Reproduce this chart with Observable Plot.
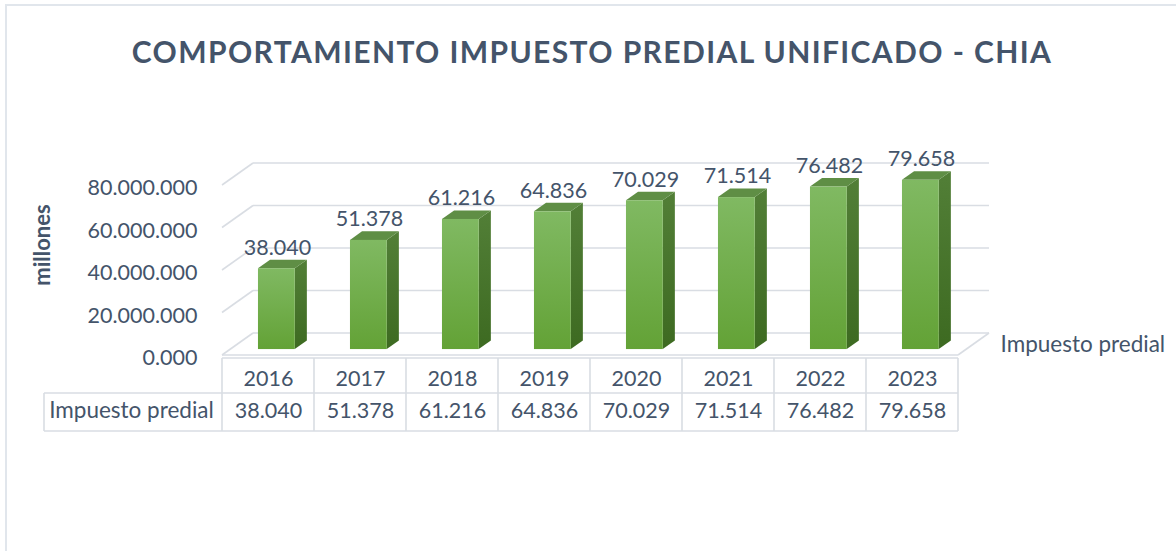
<!DOCTYPE html>
<html>
<head>
<meta charset="utf-8">
<script src="https://cdn.jsdelivr.net/npm/d3@7"></script>
<script src="https://cdn.jsdelivr.net/npm/@observablehq/plot@0.6"></script>
<style>
  html, body { margin: 0; padding: 0; background: #fff; }
  #wrap { position: relative; width: 1176px; height: 551px; overflow: hidden; font-family: Lato, "Open Sans", sans-serif; }
  #frame { position: absolute; left: 5px; top: 4px; width: 1200px; height: 600px; border-left: 2px solid #E1E6EC; border-top: 2px solid #E1E6EC; }
  #title { position: absolute; left: 5px; width: 1174px; top: 34px; line-height: 34px; text-align: center; font-weight: 700; font-size: 30px; letter-spacing: 1.4px; color: #44546A; white-space: nowrap; }
  #ytitle { position: absolute; left: 42px; top: 245px; transform: translate(-50%, -50%) rotate(-90deg); font-weight: 700; font-size: 22px; color: #44546A; white-space: nowrap; line-height: 24px; }
  #chart { position: absolute; left: 0; top: 100px; }
</style>
</head>
<body>
<div id="wrap"><div id="frame"></div><div id="title"></div><div id="ytitle"></div><div id="chart"></div></div>
<script>
// ---- data ----
const title = "COMPORTAMIENTO IMPUESTO PREDIAL UNIFICADO - CHIA";
const yTitle = "millones";
const seriesName = "Impuesto predial";
const years = ["2016", "2017", "2018", "2019", "2020", "2021", "2022", "2023"];
const values = [38.040, 51.378, 61.216, 64.836, 70.029, 71.514, 76.482, 79.658];
const yTicks = [0, 20, 40, 60, 80];
const yTickLabels = ["0.000", "20.000.000", "40.000.000", "60.000.000", "80.000.000"];

// ---- style / geometry ----
const TEXT = "#44546A";
const GRID = "#D9DDE3";
const DX = 31, DY = -22;          // floor depth in px
const BAR_FRONT = 0.27, BAR_BACK = 0.66, BAR_W = 0.4;
const NUM_SIZE = 21.5, WORD_SIZE = 22.5;
const fmt = v => v.toFixed(3);

document.getElementById("title").textContent = title;
document.getElementById("ytitle").textContent = yTitle;

const data = years.map((year, i) => ({year, value: values[i]}));

// band geometry helper (x is the band scale: returns band start)
function band(x) {
  const step = x(years[1]) - x(years[0]);
  const bw = typeof x.bandwidth === "function" ? x.bandwidth() : step;
  return {start: d => x(d), bw};
}

function walls(index, scales) {
  const y = scales.y, {start, bw} = band(scales.x);
  const x0 = start(years[0]), x1 = start(years[years.length - 1]) + bw;
  const g = d3.create("svg:g").attr("fill", "none").attr("stroke", GRID).attr("stroke-width", 1.6);
  for (const t of yTicks) {
    const yy = y(t);
    g.append("line").attr("x1", x0 + DX).attr("y1", yy + DY).attr("x2", x1 + DX).attr("y2", yy + DY);
    g.append("line").attr("x1", x0).attr("y1", yy).attr("x2", x0 + DX).attr("y2", yy + DY);
  }
  const y0 = y(0);
  g.append("line").attr("x1", x0).attr("y1", y0).attr("x2", x1).attr("y2", y0);
  g.append("line").attr("x1", x1).attr("y1", y0).attr("x2", x1 + DX).attr("y2", y0 + DY);
  return g.node();
}

function bars3d(index, scales) {
  const y = scales.y, {start, bw} = band(scales.x);
  const g = d3.create("svg:g");
  const defs = g.append("defs");
  const lg = (id, c0, c1) => {
    const gr = defs.append("linearGradient").attr("id", id).attr("x1", 0).attr("y1", 0).attr("x2", 0).attr("y2", 1);
    gr.append("stop").attr("offset", 0).attr("stop-color", c0);
    gr.append("stop").attr("offset", 1).attr("stop-color", c1);
  };
  lg("gFront", "#80B962", "#63A236");
  lg("gSide", "#527F37", "#3D6A21");
  const w = bw * BAR_W;
  const ox = DX * BAR_FRONT, oy = DY * BAR_FRONT;
  const ddx = DX * (BAR_BACK - BAR_FRONT), ddy = DY * (BAR_BACK - BAR_FRONT);
  for (const d of data) {
    const cx = start(d.year) + bw / 2;
    const L = cx - w / 2 + ox, R = cx + w / 2 + ox;
    const T = y(d.value) + oy, B = y(0) + oy;
    g.append("polygon").attr("fill", "url(#gSide)")
      .attr("points", [[R, B], [R, T], [R + ddx, T + ddy], [R + ddx, B + ddy]].join(" "));
    g.append("polygon").attr("fill", "#5F8E45")
      .attr("points", [[L, T], [R, T], [R + ddx, T + ddy], [L + ddx, T + ddy]].join(" "));
    g.append("rect").attr("fill", "url(#gFront)")
      .attr("x", L).attr("y", T).attr("width", w).attr("height", B - T);
  }
  return g.node();
}

function tableGrid(index, scales) {
  const y = scales.y, {start, bw} = band(scales.x);
  const x0 = start(years[0]), x1 = start(years[years.length - 1]) + bw;
  const LEFT = x0 - 178;
  const y0 = y(0), r0 = y0 + 3, r1 = y0 + 38, r2 = y0 + 76;
  const g = d3.create("svg:g").attr("fill", "none").attr("stroke", GRID).attr("stroke-width", 1.6);
  g.append("line").attr("x1", x0).attr("y1", r0).attr("x2", x1).attr("y2", r0);
  g.append("line").attr("x1", LEFT).attr("y1", r1).attr("x2", x1).attr("y2", r1);
  g.append("line").attr("x1", LEFT).attr("y1", r2).attr("x2", x1).attr("y2", r2);
  g.append("line").attr("x1", LEFT).attr("y1", r1).attr("x2", LEFT).attr("y2", r2);
  for (let i = 0; i <= years.length; i++) {
    const xx = i < years.length ? start(years[i]) : x1;
    g.append("line").attr("x1", xx).attr("y1", r0).attr("x2", xx).attr("y2", r2);
  }
  return g.node();
}

const chart = Plot.plot({
  width: 1176,
  height: 451,
  marginTop: 85,
  marginBottom: 196,
  marginLeft: 221,
  marginRight: 218,
  style: {fontFamily: "Lato, 'Open Sans', sans-serif", fontSize: "21px", color: TEXT, background: "transparent", overflow: "visible"},
  x: {type: "band", domain: years, padding: 0, axis: null},
  y: {domain: [0, 80], axis: null},
  marks: [
    walls,
    tableGrid,
    bars3d,
    Plot.text(yTicks, {y: d => d, frameAnchor: "left", textAnchor: "end", dx: -24, dy: 3, fontSize: NUM_SIZE, text: (d, i) => yTickLabels[i]}),
    Plot.text(data, {x: "year", y: "value", text: d => fmt(d.value), dx: 9, dy: -27, fontSize: NUM_SIZE}),
    Plot.text(data, {x: "year", frameAnchor: "bottom", dy: 30, fontSize: NUM_SIZE, text: "year"}),
    Plot.text(data, {x: "year", frameAnchor: "bottom", dy: 62, fontSize: NUM_SIZE, text: d => fmt(d.value)}),
    Plot.text([seriesName], {frameAnchor: "bottom-left", textAnchor: "middle", dx: -90, dy: 62, fontSize: WORD_SIZE, text: d => d}),
    Plot.text([seriesName], {frameAnchor: "bottom-right", textAnchor: "start", dx: 42, dy: -4, fontSize: WORD_SIZE, text: d => d})
  ]
});
document.getElementById("chart").appendChild(chart);
</script>
</body>
</html>
